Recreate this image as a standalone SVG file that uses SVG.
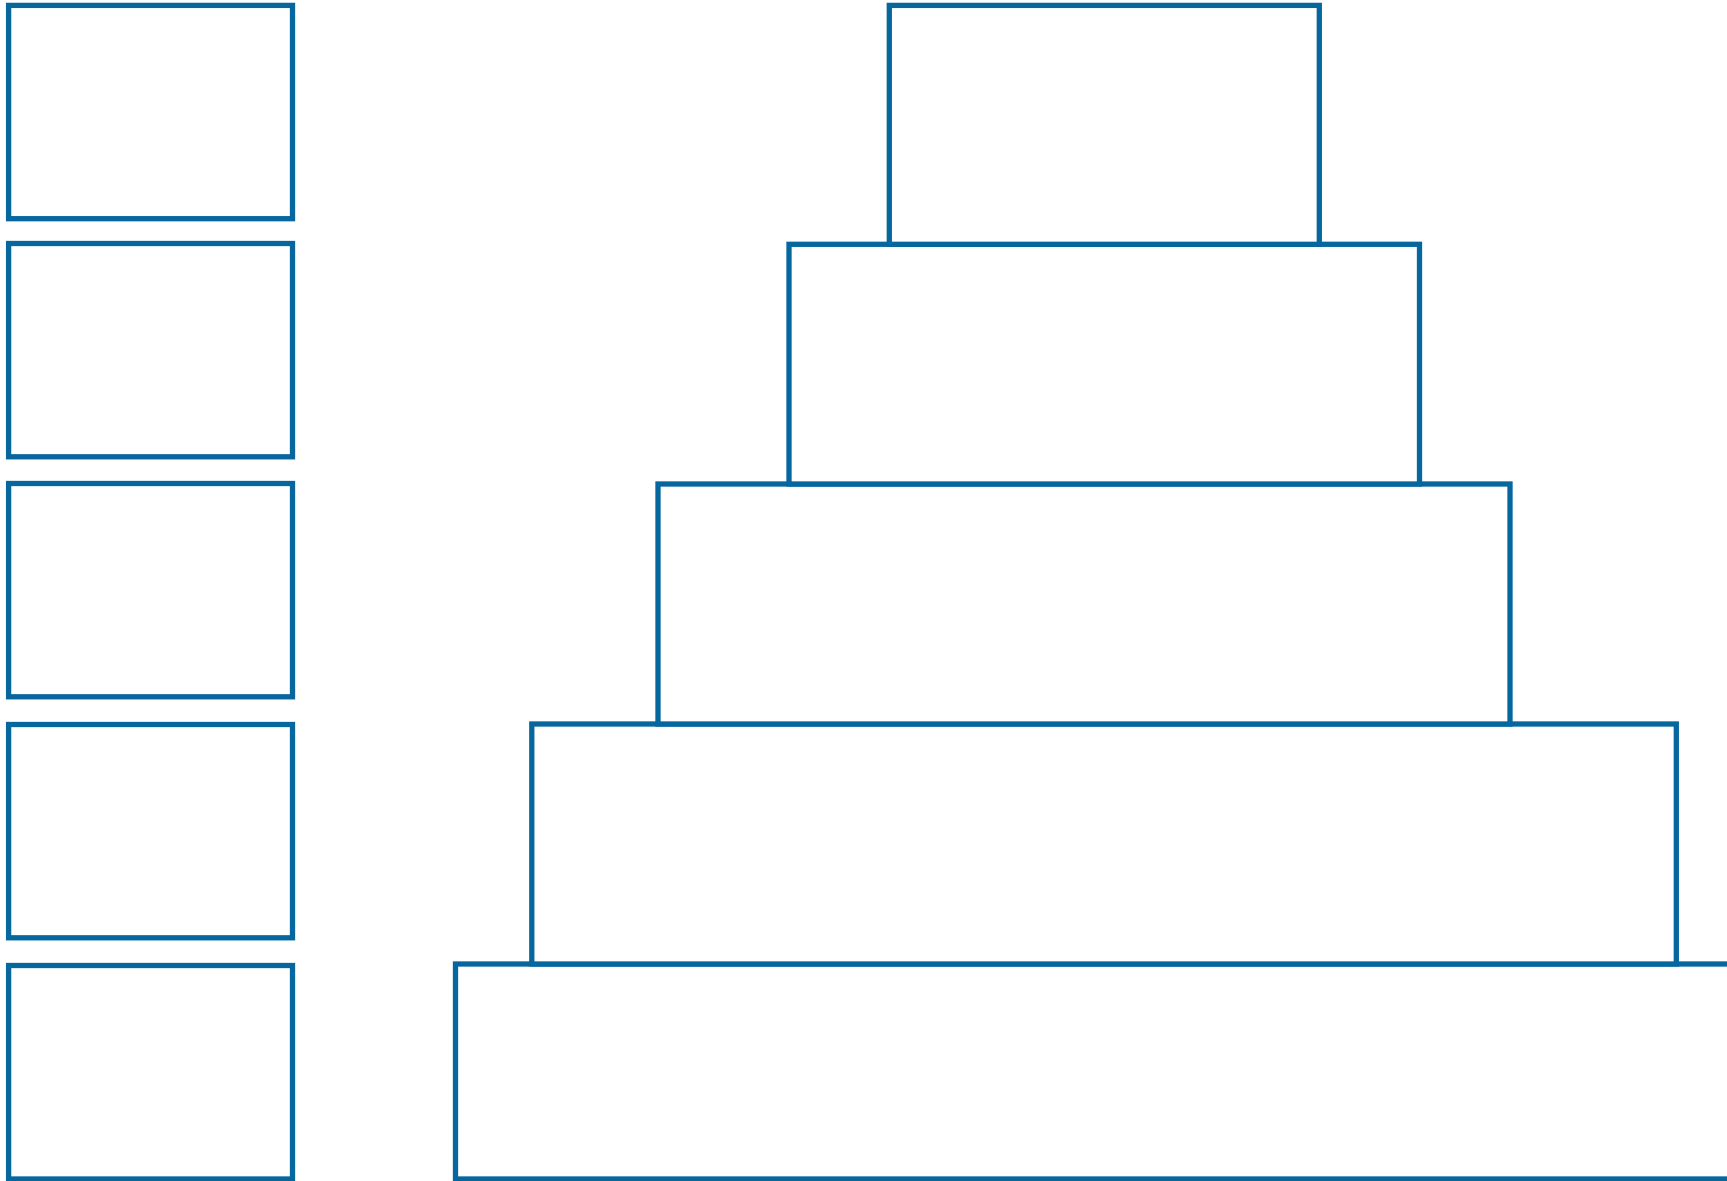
<svg xmlns="http://www.w3.org/2000/svg" width="1727" height="1181" viewBox="0 0 1727 1181">
<style>
.box{fill:#ffffff;stroke:#05679e;stroke-width:5.3}
</style>
<rect width="1727" height="1181" fill="#ffffff"/>
<g id="left-box-1"><rect class="box" x="8.6" y="5.4" width="283.9" height="213.3"/></g>
<g id="left-box-2"><rect class="box" x="8.6" y="243.5" width="283.9" height="213.3"/></g>
<g id="left-box-3"><rect class="box" x="8.6" y="483.5" width="283.9" height="213.3"/></g>
<g id="left-box-4"><rect class="box" x="8.6" y="724.5" width="283.9" height="213.3"/></g>
<g id="left-box-5"><rect class="box" x="8.6" y="965.5" width="283.9" height="213.5"/></g>
<g id="tier-5"><rect class="box" x="455.5" y="964" width="1300" height="215"/></g>
<g id="tier-4"><rect class="box" x="531.8" y="724" width="1144.5" height="240"/></g>
<g id="tier-3"><rect class="box" x="658" y="484" width="852" height="240"/></g>
<g id="tier-2"><rect class="box" x="789" y="244.3" width="630.5" height="239.7"/></g>
<g id="tier-1"><rect class="box" x="889.3" y="5.4" width="430" height="238.9"/></g>
</svg>
